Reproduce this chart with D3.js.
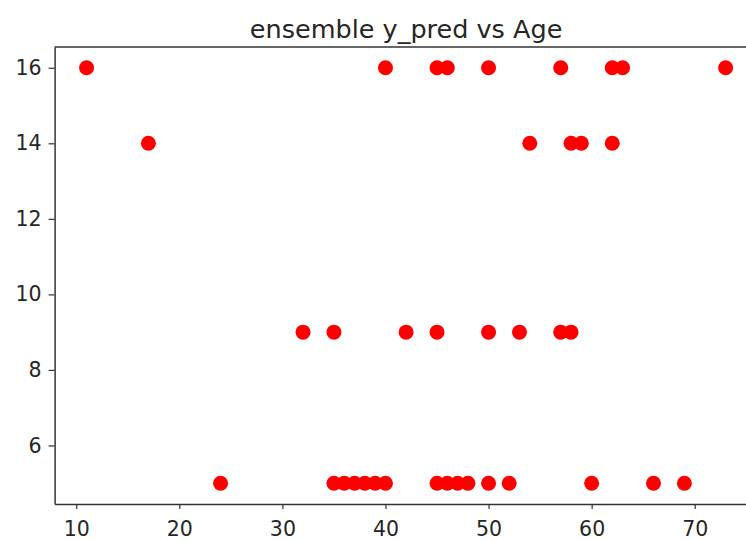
<!doctype html>
<html lang="en">
<head>
    <title></title>
    <script src="https://d3js.org/d3.v7.min.js"></script>
    <style type="text/css">
    body { margin: 0; background: white; }
    text { font-family: "DejaVu Sans", sans-serif; fill: #262626; }
    </style>
</head>

<body>
</body>

<script type="text/javascript">

    // predicted class vs age, one array per predicted value
    var ages16 = [11, 40, 45, 46, 50, 57, 62, 63, 73];
    var ages14 = [17, 54, 58, 59, 62];
    var ages9  = [32, 35, 42, 45, 50, 53, 57, 58];
    var ages5  = [24, 35, 36, 37, 38, 39, 40, 45, 46, 47, 48, 50, 52, 60, 66, 69];
    var xTicks = [10, 20, 30, 40, 50, 60, 70];
    var yTicks = [6, 8, 10, 12, 14, 16];

    var data = [];
    ages16.forEach(a => data.push({age: a, pred: 16}));
    ages14.forEach(a => data.push({age: a, pred: 14}));
    ages9.forEach(a => data.push({age: a, pred: 9}));
    ages5.forEach(a => data.push({age: a, pred: 5}));

    var W = 746, H = 540;
    var margin = {top: 47, left: 54.6, right: -11.6, bottom: 36};
    var width  = W - margin.left - margin.right;
    var height = H - margin.top - margin.bottom;

    var xScale = d3.scaleLinear()
                .domain([7.9, 76.1])
                .range([0, width]);

    var yScale = d3.scaleLinear()
                .domain([4.45, 16.55])
                .range([height, 0]);

    var root = d3.select("body")
    .append("svg")
    .attr("width", W)
    .attr("height", H);

    var svg = root.append("g")
    .attr("transform", "translate("+margin.left+","+margin.top+")");

    svg.selectAll(".dot")
    .data(data)
    .enter()
    .append("circle")
    .attr("class", "dot")
    .attr("cx", d=>xScale(d.age))
    .attr("cy", d=>yScale(d.pred))
    .attr("r", 7.5)
    .attr("fill", "#ff0000");

    var xAxis = svg.append("g")
    .attr("transform", "translate(0,"+height+")")
    .call(d3.axisBottom(xScale).tickValues(xTicks).tickSize(5).tickPadding(12).tickSizeOuter(0));

    var yAxis = svg.append("g")
    .call(d3.axisLeft(yScale).tickValues(yTicks).tickSize(6).tickPadding(7).tickSizeOuter(0));

    [xAxis, yAxis].forEach(function(g) {
        g.selectAll("text").style("font-size", "20.5px").attr("fill", "#2b2b2b");
        g.selectAll("line").attr("stroke", "#333").attr("stroke-width", 1.2);
        g.select(".domain").attr("stroke", "#333").attr("stroke-width", 1.5);
    });

    // top and right spines
    svg.append("line")
    .attr("x1", 0).attr("x2", width).attr("y1", 0).attr("y2", 0)
    .attr("stroke", "#333").attr("stroke-width", 1.5);
    svg.append("line")
    .attr("x1", width).attr("x2", width).attr("y1", 0).attr("y2", height)
    .attr("stroke", "#333").attr("stroke-width", 1.5);

    root.append("text")
    .attr("x", margin.left + width/2)
    .attr("y", 38)
    .attr("text-anchor", "middle")
    .style("font-size", "25.5px")
    .text("ensemble y_pred vs Age");

</script>
</html>
